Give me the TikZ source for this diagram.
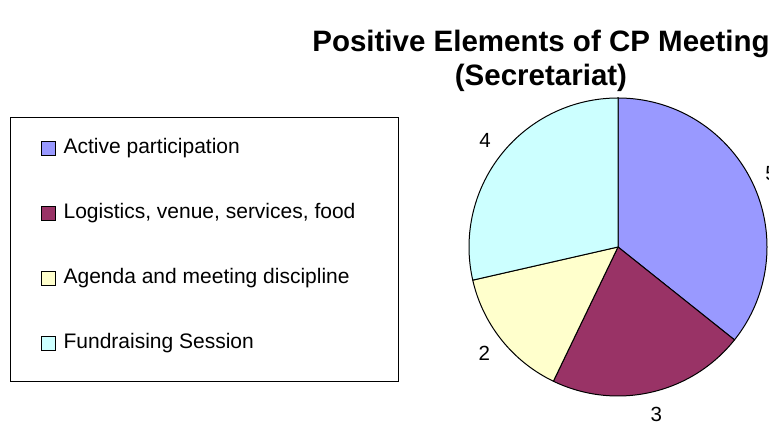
\documentclass[tikz,border=0pt]{standalone}
\usepackage{fontspec}
\setmainfont{Liberation Sans}
\usetikzlibrary{positioning}
\definecolor{activeblue}{HTML}{9999FF}
\definecolor{logmaroon}{HTML}{993366}
\definecolor{agendayellow}{HTML}{FFFFCC}
\definecolor{fundcyan}{HTML}{CCFFFF}
\newcommand{\pierad}{149}

\begin{document}
\begin{tikzpicture}[x=1pt,y=1pt,node distance=65pt,
                key/.style = {draw, minimum size=14pt, inner sep=0pt, line width=0.8pt},
                entry/.style = {font=\fontsize{21}{24}\selectfont, inner sep=0pt},
                slice/.style = {draw, line width=1pt},
                value/.style = {font=\fontsize{20.5}{24}\selectfont}]
                \useasboundingbox (0,0) rectangle (769,427);
                % title
                \node[font=\bfseries\fontsize{29.5}{34}\selectfont, align=center] (title) at (541,366)
                    {Positive Elements of CP Meeting\\(Secretariat)};
                % legend
                \draw[line width=0.8pt] (10,46) rectangle (398,310);
                \node[key, fill=activeblue] (ka) at (48,279) {};
                \node[key, fill=logmaroon] (kb) [below of=ka] {};
                \node[key, fill=agendayellow] (kc) [below of=kb] {};
                \node[key, fill=fundcyan] (kd) [below of=kc] {};
                \node[entry] (ta) [right=8pt of ka] {Active participation};
                \node[entry] (tb) [right=8pt of kb] {Logistics, venue, services, food};
                \node[entry] (tc) [right=8pt of kc] {Agenda and meeting discipline};
                \node[entry] (td) [right=8pt of kd] {Fundraising Session};
                % pie
                \coordinate (centre) at (618,180);
                \draw[slice, fill=activeblue] (centre) -- ++(90:\pierad) arc[start angle=90, end angle=-38.57, radius=\pierad] -- cycle;
                \draw[slice, fill=logmaroon] (centre) -- ++(-38.57:\pierad) arc[start angle=-38.57, end angle=-115.71, radius=\pierad] -- cycle;
                \draw[slice, fill=agendayellow] (centre) -- ++(-115.71:\pierad) arc[start angle=-115.71, end angle=-167.14, radius=\pierad] -- cycle;
                \draw[slice, fill=fundcyan] (centre) -- ++(-167.14:\pierad) arc[start angle=-167.14, end angle=-270, radius=\pierad] -- cycle;
                \node[value] (va) at ([shift={(25.7:170)}]centre) {5};
                \node[value] (vb) at ([shift={(-77.1:172)}]centre) {3};
                \node[value] (vc) at ([shift={(-141.4:171)}]centre) {2};
                \node[value] (vd) at ([shift={(141.4:170)}]centre) {4};
            \end{tikzpicture}
\end{document}
